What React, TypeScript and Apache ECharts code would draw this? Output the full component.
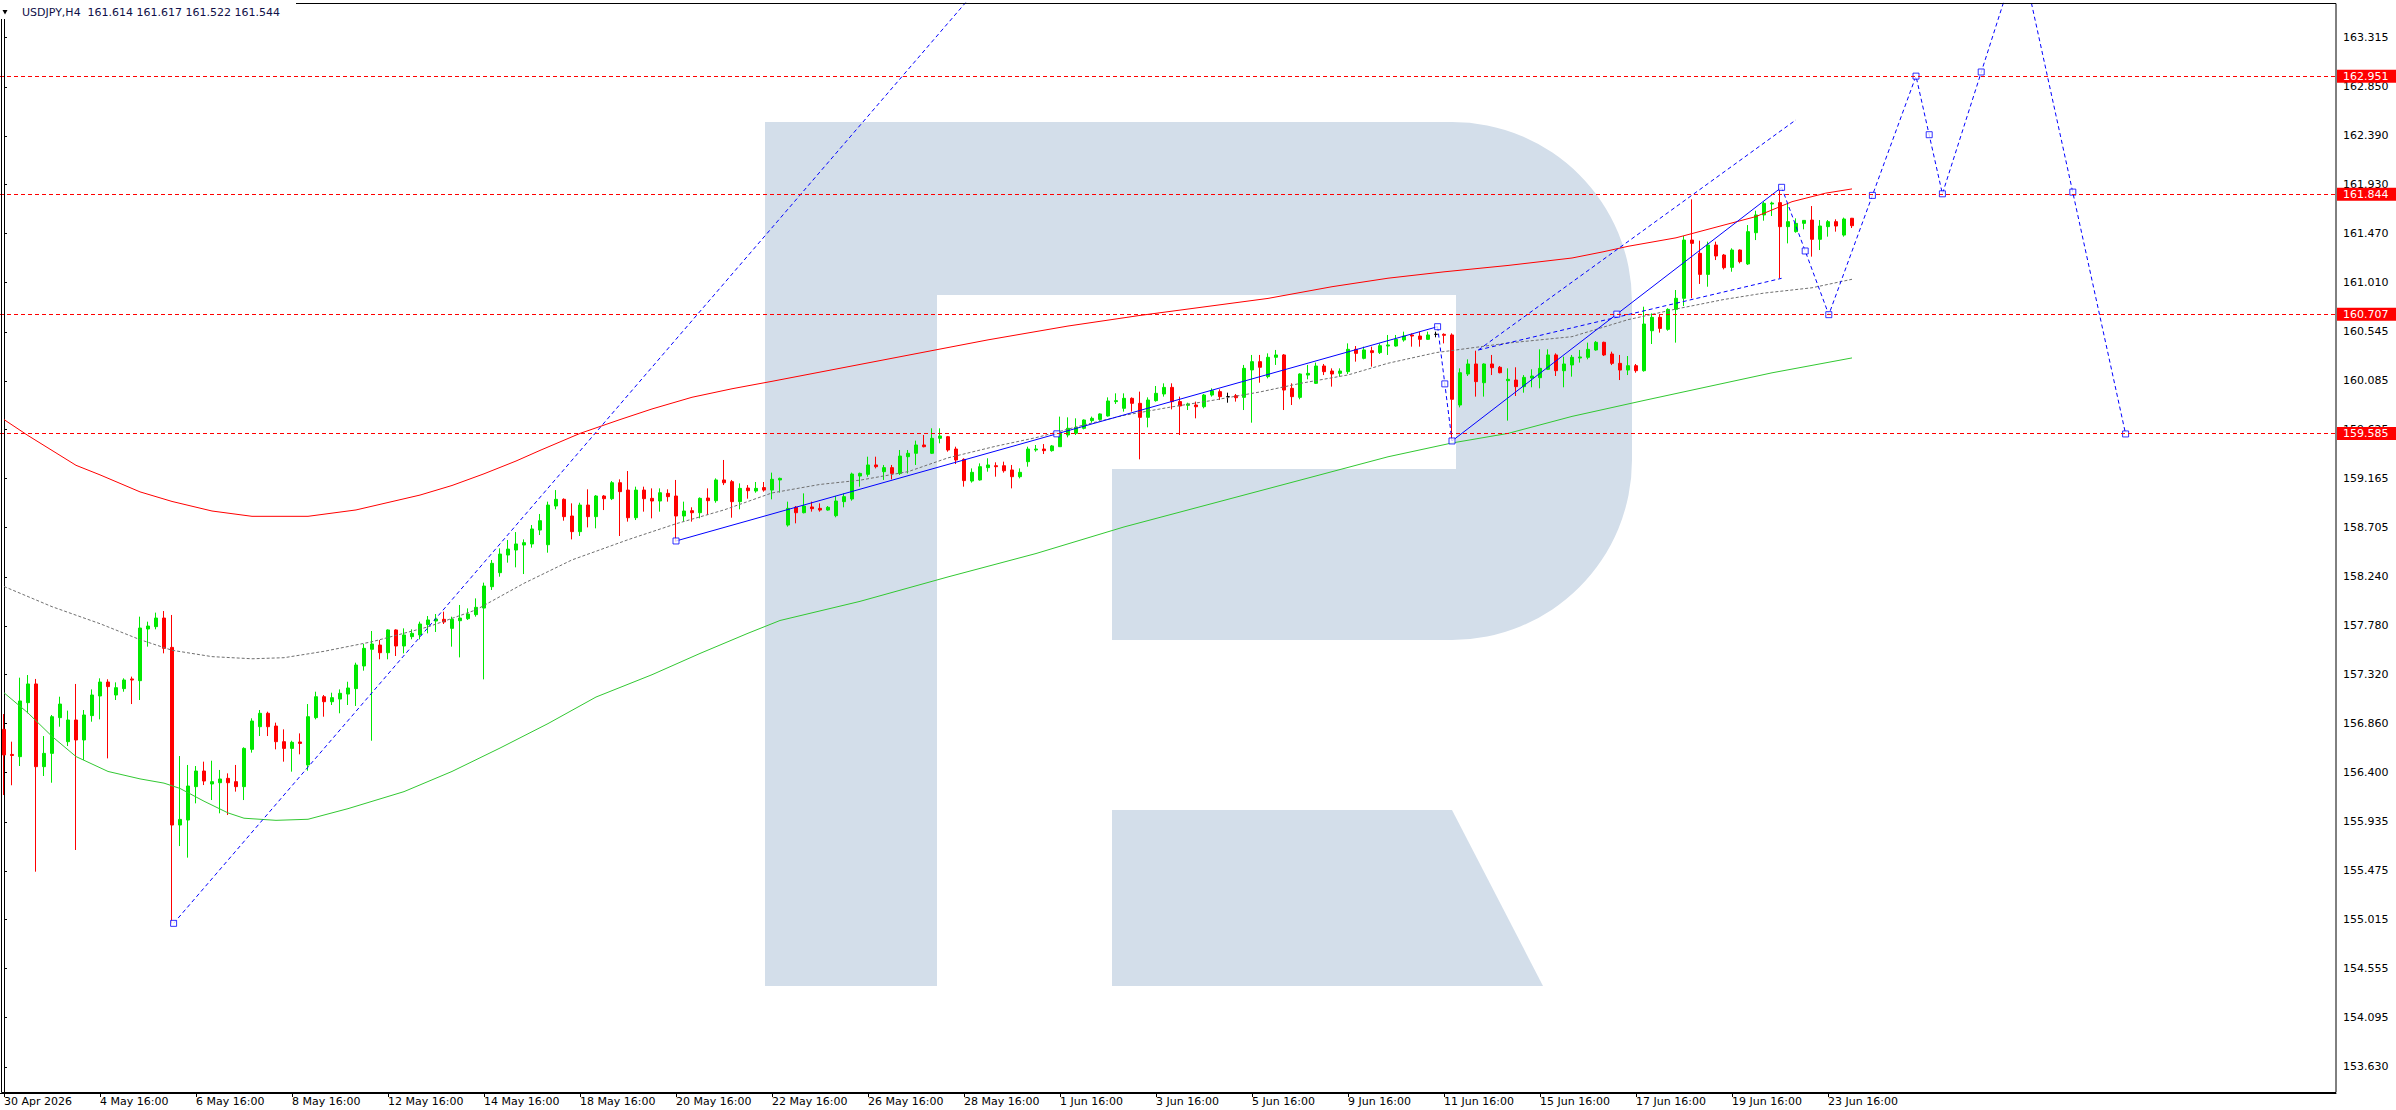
import React, { useEffect, useRef } from 'react';
import * as echarts from 'echarts';

// ---------- data ----------
const HEADER = 'USDJPY,H4  161.614 161.617 161.522 161.544';
const BAR_COUNT = 292;
const categories = Array.from({ length: BAR_COUNT }, (_, i) => String(i));

const X_TICK_LABELS = [
  '30 Apr 2026', '4 May 16:00', '6 May 16:00', '8 May 16:00', '12 May 16:00',
  '14 May 16:00', '18 May 16:00', '20 May 16:00', '22 May 16:00', '26 May 16:00',
  '28 May 16:00', '1 Jun 16:00', '3 Jun 16:00', '5 Jun 16:00', '9 Jun 16:00',
  '11 Jun 16:00', '15 Jun 16:00', '17 Jun 16:00', '19 Jun 16:00', '23 Jun 16:00',
];

const Y_TICK_VALUES = [
  163.315, 162.85, 162.39, 161.93, 161.47, 161.01, 160.545, 160.085, 159.625, 159.165,
  158.705, 158.24, 157.78, 157.32, 156.86, 156.4, 155.935, 155.475, 155.015, 154.555,
  154.095, 153.63,
];

const LEVELS = ['162.951', '161.844', '160.707', '159.585'];
const LAST_PRICE = '161.544';

// [open, high, low, close]
const ohlc: number[][] = [
  [156.806, 156.95, 156.188, 156.565], [156.57, 156.69, 156.28, 156.56], [156.549, 157.292, 156.461, 157.073],
  [157.057, 157.317, 156.957, 157.233], [157.233, 157.28, 155.467, 156.455], [156.455, 156.743, 156.367, 156.58],
  [156.58, 156.941, 156.304, 156.925], [156.916, 157.113, 156.831, 157.044], [156.69, 156.982, 156.649, 156.894],
  [156.894, 157.233, 155.671, 156.706], [156.706, 156.988, 156.518, 156.941], [156.935, 157.182, 156.878, 157.129],
  [157.12, 157.286, 156.9, 157.251], [157.251, 157.277, 156.533, 157.208], [157.129, 157.248, 157.082, 157.198],
  [157.189, 157.286, 157.16, 157.27], [157.28, 157.302, 157.044, 157.27], [157.264, 157.866, 157.082, 157.759],
  [157.75, 157.819, 157.584, 157.778], [157.772, 157.904, 157.747, 157.853], [157.853, 157.919, 157.521, 157.568],
  [157.577, 157.882, 154.981, 155.906], [155.906, 156.555, 155.708, 155.959], [155.953, 156.471, 155.599, 156.273],
  [156.267, 156.461, 156.11, 156.414], [156.414, 156.502, 156.282, 156.32], [156.292, 156.511, 156.141, 156.314],
  [156.304, 156.424, 156.016, 156.339], [156.345, 156.392, 156.0, 156.304], [156.314, 156.471, 156.22, 156.267],
  [156.267, 156.637, 156.141, 156.627], [156.618, 156.91, 156.587, 156.884], [156.831, 156.988, 156.743, 156.957],
  [156.957, 156.972, 156.743, 156.831], [156.837, 156.869, 156.618, 156.69], [156.69, 156.806, 156.502, 156.627],
  [156.627, 156.699, 156.408, 156.684], [156.687, 156.768, 156.571, 156.674], [156.471, 157.044, 156.417, 156.925],
  [156.916, 157.16, 156.9, 157.113], [157.113, 157.129, 156.925, 157.066], [157.066, 157.151, 157.035, 157.104],
  [157.091, 157.182, 156.957, 157.145], [157.138, 157.254, 157.035, 157.195], [157.189, 157.433, 157.026, 157.411],
  [157.402, 157.609, 157.358, 157.568], [157.559, 157.731, 156.699, 157.609], [157.599, 157.646, 157.465, 157.527],
  [157.527, 157.747, 157.465, 157.741], [157.741, 157.747, 157.496, 157.59], [157.59, 157.756, 157.521, 157.694],
  [157.678, 157.747, 157.653, 157.709], [157.694, 157.819, 157.653, 157.797], [157.791, 157.872, 157.709, 157.835],
  [157.825, 157.891, 157.722, 157.844], [157.841, 157.913, 157.797, 157.816], [157.756, 157.866, 157.584, 157.841],
  [157.828, 157.976, 157.483, 157.853], [157.847, 157.944, 157.835, 157.891], [157.885, 158.038, 157.866, 157.954],
  [157.947, 158.186, 157.276, 158.154], [158.148, 158.399, 158.117, 158.368], [158.28, 158.509, 158.242, 158.455],
  [158.446, 158.587, 158.374, 158.502], [158.493, 158.662, 158.33, 158.55], [158.54, 158.593, 158.267, 158.562],
  [158.55, 158.728, 158.515, 158.691], [158.681, 158.832, 158.634, 158.769], [158.543, 158.948, 158.468, 158.916],
  [158.907, 159.057, 158.876, 158.97], [158.97, 158.979, 158.769, 158.807], [158.813, 158.932, 158.593, 158.666],
  [158.666, 158.938, 158.625, 158.916], [158.916, 159.064, 158.706, 158.807], [158.807, 159.01, 158.697, 159.001],
  [159.001, 159.01, 158.869, 158.976], [158.976, 159.142, 158.963, 159.126], [159.126, 159.158, 158.625, 159.042],
  [159.057, 159.236, 158.76, 158.797], [158.797, 159.089, 158.775, 159.057], [159.057, 159.089, 158.854, 158.976],
  [158.979, 159.073, 158.791, 158.954], [158.954, 159.073, 158.854, 159.032], [159.026, 159.064, 158.948, 158.995],
  [159.001, 159.152, 158.572, 158.813], [158.813, 158.948, 158.76, 158.86], [158.863, 158.895, 158.76, 158.844],
  [158.844, 158.988, 158.791, 158.979], [158.982, 159.073, 158.822, 158.957], [158.957, 159.167, 158.938, 159.152],
  [159.152, 159.34, 159.104, 159.126], [159.136, 159.152, 158.797, 158.948], [158.948, 159.12, 158.876, 159.073],
  [159.076, 159.104, 158.976, 159.051], [159.048, 159.133, 159.032, 159.073], [159.08, 159.133, 159.042, 159.057],
  [159.057, 159.221, 158.97, 159.158], [159.152, 159.174, 159.033, 159.167], [158.728, 158.948, 158.713, 158.885],
  [158.895, 158.907, 158.744, 158.844], [158.844, 159.026, 158.838, 158.907], [158.898, 158.948, 158.854, 158.882],
  [158.885, 158.932, 158.854, 158.869], [158.869, 158.907, 158.863, 158.895], [158.816, 159.001, 158.801, 158.954],
  [158.948, 159.026, 158.895, 158.995], [158.973, 159.221, 158.957, 159.208], [159.189, 159.221, 159.089, 159.214],
  [159.205, 159.371, 159.183, 159.293], [159.293, 159.371, 159.261, 159.277], [159.23, 159.293, 159.152, 159.268],
  [159.268, 159.293, 159.158, 159.214], [159.214, 159.434, 159.199, 159.377], [159.371, 159.434, 159.214, 159.403],
  [159.403, 159.522, 159.293, 159.481], [159.481, 159.575, 159.459, 159.465], [159.403, 159.638, 159.396, 159.544],
  [159.544, 159.638, 159.497, 159.566], [159.559, 159.566, 159.418, 159.434], [159.443, 159.465, 159.302, 159.34],
  [159.346, 159.356, 159.089, 159.146], [159.142, 159.261, 159.127, 159.224], [159.152, 159.308, 159.146, 159.277],
  [159.268, 159.356, 159.23, 159.293], [159.286, 159.318, 159.183, 159.277], [159.286, 159.324, 159.221, 159.239],
  [159.246, 159.293, 159.073, 159.183], [159.183, 159.261, 159.167, 159.224], [159.324, 159.465, 159.277, 159.443],
  [159.434, 159.481, 159.418, 159.443], [159.443, 159.49, 159.396, 159.428], [159.428, 159.481, 159.418, 159.472],
  [159.465, 159.748, 159.465, 159.591], [159.575, 159.741, 159.553, 159.638], [159.591, 159.732, 159.575, 159.647],
  [159.638, 159.722, 159.628, 159.716], [159.71, 159.748, 159.691, 159.732], [159.722, 159.779, 159.71, 159.773],
  [159.754, 159.929, 159.748, 159.895], [159.889, 159.967, 159.867, 159.898], [159.826, 159.967, 159.795, 159.92],
  [159.92, 159.929, 159.795, 159.873], [159.873, 159.983, 159.346, 159.741], [159.741, 159.929, 159.647, 159.904],
  [159.898, 160.036, 159.889, 159.967], [159.961, 160.061, 159.936, 160.023], [160.023, 160.061, 159.816, 159.889],
  [159.889, 159.936, 159.575, 159.848], [159.854, 159.879, 159.81, 159.867], [159.857, 159.889, 159.732, 159.841],
  [159.841, 159.961, 159.826, 159.951], [159.951, 160.014, 159.936, 159.992], [159.983, 160.005, 159.904, 159.936],
  [159.936, 159.973, 159.879, 159.936], [159.945, 159.961, 159.889, 159.926], [159.929, 160.234, 159.81, 160.202],
  [160.187, 160.328, 159.691, 160.265], [160.265, 160.328, 160.067, 160.212], [160.124, 160.343, 160.108, 160.306],
  [160.306, 160.375, 160.234, 160.328], [160.328, 160.337, 159.81, 159.998], [160.014, 160.061, 159.857, 159.936],
  [159.929, 160.155, 159.911, 160.149], [160.139, 160.234, 160.099, 160.155], [160.061, 160.256, 160.055, 160.224],
  [160.224, 160.243, 160.139, 160.171], [160.177, 160.202, 160.03, 160.149], [160.155, 160.202, 160.124, 160.177],
  [160.171, 160.437, 160.149, 160.381], [160.381, 160.412, 160.265, 160.343], [160.296, 160.406, 160.287, 160.375],
  [160.368, 160.406, 160.218, 160.35], [160.35, 160.437, 160.337, 160.415], [160.412, 160.516, 160.328, 160.422],
  [160.412, 160.516, 160.406, 160.475], [160.469, 160.547, 160.453, 160.506], [160.516, 160.531, 160.406, 160.506],
  [160.506, 160.547, 160.406, 160.475], [160.475, 160.547, 160.469, 160.516], [160.522, 160.547, 160.494, 160.522],
  [160.522, 160.531, 160.437, 160.513], [160.516, 160.531, 159.522, 159.911], [159.857, 160.202, 159.835, 160.161],
  [160.149, 160.287, 160.13, 160.243], [160.243, 160.368, 159.936, 160.077], [160.067, 160.249, 159.936, 160.243],
  [160.243, 160.328, 160.139, 160.208], [160.212, 160.224, 160.155, 160.161], [160.086, 160.202, 159.71, 160.099],
  [160.092, 160.212, 159.942, 160.03], [160.03, 160.139, 159.973, 160.117], [160.111, 160.193, 160.024, 160.13],
  [160.114, 160.381, 160.014, 160.202], [160.193, 160.381, 160.186, 160.328], [160.328, 160.343, 160.13, 160.18],
  [160.18, 160.312, 160.024, 160.243], [160.234, 160.328, 160.124, 160.306], [160.299, 160.375, 160.256, 160.309],
  [160.306, 160.444, 160.287, 160.381], [160.375, 160.459, 160.368, 160.447], [160.447, 160.453, 160.318, 160.328],
  [160.337, 160.359, 160.233, 160.249], [160.249, 160.328, 160.092, 160.186], [160.186, 160.318, 160.139, 160.227],
  [160.227, 160.243, 160.161, 160.18], [160.18, 160.782, 160.171, 160.619], [160.556, 160.719, 160.431, 160.682],
  [160.682, 160.713, 160.538, 160.578], [160.569, 160.767, 160.556, 160.757], [160.757, 160.939, 160.444, 160.861],
  [160.861, 161.447, 160.788, 161.409], [161.409, 161.792, 160.861, 161.378], [161.284, 161.403, 160.996, 161.086],
  [161.086, 161.394, 160.97, 161.362], [161.362, 161.394, 161.221, 161.259], [161.268, 161.278, 161.133, 161.149],
  [161.152, 161.331, 161.111, 161.315], [161.315, 161.321, 161.19, 161.206], [161.184, 161.55, 161.174, 161.488],
  [161.478, 161.685, 161.409, 161.645], [161.645, 161.77, 161.591, 161.754], [161.748, 161.77, 161.635, 161.757],
  [161.761, 161.886, 161.049, 161.535], [161.535, 161.754, 161.378, 161.582], [161.488, 161.613, 161.478, 161.566],
  [161.566, 161.597, 161.51, 161.594], [161.597, 161.729, 161.253, 161.416], [161.416, 161.597, 161.315, 161.541],
  [161.535, 161.597, 161.441, 161.582], [161.582, 161.604, 161.488, 161.541], [161.456, 161.62, 161.441, 161.607],
  [161.614, 161.617, 161.522, 161.544],
];

// moving averages, read at sample bars: [bar index, price]
const redMA = [
  [0, 159.72], [3, 159.57], [6, 159.43], [9, 159.29], [12, 159.2], [17, 159.04], [21, 158.95], [26, 158.86],
  [31, 158.81], [38, 158.81], [44, 158.87], [48, 158.94], [52, 159.01], [56, 159.1], [60, 159.21], [64, 159.33],
  [67, 159.43], [72, 159.59], [77, 159.72], [81, 159.82], [86, 159.93], [91, 160.01], [96, 160.08], [105, 160.21],
  [114, 160.34], [123, 160.47], [133, 160.6], [142, 160.7], [151, 160.79], [158, 160.86], [166, 160.97],
  [173, 161.05], [180, 161.11], [188, 161.17], [196, 161.24], [200, 161.3], [203, 161.35], [209, 161.43],
  [215, 161.55], [219, 161.63], [223.5, 161.77], [227.7, 161.85], [231, 161.89],
];
const greenMA = [
  [0, 157.15], [3, 156.96], [6, 156.74], [9, 156.55], [13, 156.41], [17, 156.34], [20, 156.3], [22, 156.25],
  [25, 156.13], [28, 156.02], [30, 155.97], [34, 155.95], [38, 155.96], [43, 156.06], [50, 156.22], [56, 156.41],
  [62, 156.63], [68, 156.86], [74, 157.11], [81, 157.32], [87, 157.52], [93, 157.71], [97, 157.83], [107, 158.01],
  [118, 158.24], [129, 158.46], [140, 158.71], [151, 158.93], [162, 159.15], [173, 159.37], [181, 159.5],
  [188, 159.59], [196, 159.75], [205, 159.9], [213, 160.03], [221, 160.16], [231, 160.3],
];
const grayMA = [
  [0, 158.15], [6, 157.96], [12, 157.8], [17, 157.65], [21, 157.55], [26, 157.49], [31, 157.47], [35, 157.48],
  [40, 157.54], [46, 157.63], [53, 157.77], [59, 157.93], [65, 158.18], [71, 158.4], [78, 158.59], [84, 158.74],
  [90, 158.87], [96, 159.03], [102, 159.11], [107, 159.15], [113, 159.23], [118, 159.36], [124, 159.47],
  [129, 159.55], [135, 159.67], [140, 159.76], [146, 159.84], [151, 159.9], [157, 159.98], [162, 160.06],
  [168, 160.14], [173, 160.25], [179, 160.35], [188, 160.44], [196, 160.5], [203, 160.66], [209, 160.76],
  [215, 160.85], [220, 160.91], [226, 160.96], [231, 161.04],
];

// drawn objects
const trend1 = [[84, 158.578], [179.2, 160.594]];
const trend2 = [[181, 159.519], [222.2, 161.905]];
const dashBig = [[21.2, 154.981], [126, 164.15]];
const dashLink = [[179.2, 160.594], [181, 159.519]];
const dashFanUp = [[184.3, 160.375], [224, 162.54]];
const dashFanLow = [[184.3, 160.375], [222.2, 161.049]];
const forecast = [[222.2, 161.905], [228.1, 160.707], [239, 162.951], [242.3, 161.844], [252, 164.13], [265.2, 159.585]];
const anchors = [
  [84, 158.578], [131.6, 159.586], [179.2, 160.594], [180.1, 160.056],
  [181, 159.519], [201.6, 160.712], [222.2, 161.905], [21.2, 154.981],
  [225.15, 161.306], [228.1, 160.707], [233.55, 161.829], [239, 162.951], [240.65, 162.4],
  [242.3, 161.844], [247.15, 162.99], [258.6, 161.86], [265.2, 159.585],
];

// ---------- styles ----------
const BULL = '#00e800';
const BEAR = '#ff0000';
const BLUE = '#0000ff';
const LOGO = '#d3deea';
const FONT = 'DejaVu Sans';

echarts.graphic.registerShape(
  'rLogo',
  echarts.graphic.extendPath(
    'M765 122 L1452 122 A180 180 0 0 1 1632 302 L1632 460 A180 180 0 0 1 1452 640 L1112 640 L1112 469 L1456 469 L1456 295 L937 295 L937 986 L765 986 Z',
    {}
  )
);

const lineSeries = (data: number[][], color: string, type: any) => ({
  type: 'line',
  xAxisIndex: 1,
  yAxisIndex: 0,
  data,
  symbol: 'none',
  clip: true,
  silent: true,
  smooth: false,
  lineStyle: { color, width: 1, type },
  z: 3,
});

const priceLabel = (bg: string) => ({
  show: true,
  position: 'end',
  distance: 1,
  formatter: (p: any) => p.name,
  color: '#ffffff',
  backgroundColor: bg,
  fontSize: 11,
  fontFamily: FONT,
  padding: [1, 0, 0, 6],
  width: 53,
  height: 12,
  lineHeight: 12,
});

const option: any = {
  animation: false,
  backgroundColor: '#ffffff',
  grid: { left: -2.1, right: 60, top: 3, bottom: 17, containLabel: false },
  xAxis: [
    {
      type: 'category',
      data: categories,
      boundaryGap: true,
      axisLine: { show: true, lineStyle: { color: '#000', width: 1 } },
      axisTick: {
        show: true,
        alignWithLabel: true,
        length: 4,
        interval: (i: number) => i % 12 === 0 && i / 12 < X_TICK_LABELS.length,
        lineStyle: { color: '#000' },
      },
      axisLabel: {
        interval: (i: number) => i % 12 === 0 && i / 12 < X_TICK_LABELS.length,
        formatter: (_v: string, i: number) => X_TICK_LABELS[i / 12] ?? '',
        align: 'left',
        margin: 3,
        color: '#000',
        fontSize: 11,
        fontFamily: FONT,
      },
      splitLine: { show: false },
    },
    { type: 'value', min: -0.5, max: BAR_COUNT - 0.5, show: false, gridIndex: 0 },
  ],
  yAxis: {
    type: 'value',
    position: 'right',
    min: 153.385,
    max: 163.639,
    axisLine: { show: true, lineStyle: { color: '#000', width: 1 } },
    axisTick: { show: true, customValues: Y_TICK_VALUES, length: 3, lineStyle: { color: '#000' } },
    axisLabel: {
      customValues: Y_TICK_VALUES,
      formatter: (v: number) => v.toFixed(3),
      margin: 7,
      color: '#000',
      fontSize: 11,
      fontFamily: FONT,
    },
    splitLine: { show: false },
  },
  series: [
    {
      type: 'candlestick',
      xAxisIndex: 0,
      yAxisIndex: 0,
      data: ohlc.map(([o, h, l, c]) => [o, c, l, h]),
      barWidth: 4,
      silent: true,
      z: 2,
      itemStyle: {
        color: BULL,
        color0: BEAR,
        borderColor: BULL,
        borderColor0: BEAR,
        borderColorDoji: '#000000',
        borderWidth: 1,
      },
      markLine: {
        silent: true,
        symbol: ['none', 'none'],
        animation: false,
        lineStyle: { color: '#ff0000', width: 1, type: [4, 3] },
        label: priceLabel('#ff0000'),
        data: [
          ...LEVELS.map((v) => ({ name: v, yAxis: Number(v) })),
          { name: LAST_PRICE, yAxis: Number(LAST_PRICE), lineStyle: { opacity: 0 }, label: priceLabel('#000000') },
        ],
      },
    },
    lineSeries(redMA, '#ff0000', 'solid'),
    lineSeries(greenMA, '#32c832', 'solid'),
    lineSeries(grayMA, '#707070', [3, 2]),
    lineSeries(trend1, BLUE, 'solid'),
    lineSeries(trend2, BLUE, 'solid'),
    lineSeries(dashBig, BLUE, [4, 3]),
    lineSeries(dashLink, BLUE, [4, 3]),
    lineSeries(dashFanUp, BLUE, [4, 3]),
    lineSeries(dashFanLow, BLUE, [4, 3]),
    lineSeries(forecast, BLUE, [4, 3]),
    {
      type: 'scatter',
      xAxisIndex: 1,
      yAxisIndex: 0,
      data: anchors,
      symbol: 'rect',
      symbolSize: 6,
      silent: true,
      z: 4,
      itemStyle: { color: '#ffffff', borderColor: BLUE, borderWidth: 1 },
    },
  ],
  graphic: [
    { type: 'rLogo', x: 0, y: 0, z: 0, silent: true, style: { fill: LOGO } },
    {
      type: 'polygon',
      z: 0,
      silent: true,
      shape: { points: [[1112, 810], [1452, 810], [1543, 986], [1112, 986]] },
      style: { fill: LOGO },
    },
    {
      type: 'rect',
      z: 10,
      silent: true,
      shape: { x: 1.5, y: 3.5, width: 2334.5, height: 1089 },
      style: { fill: 'none', stroke: '#000', lineWidth: 1 },
    },
    { type: 'rect', z: 11, silent: true, shape: { x: 0, y: 0, width: 296, height: 19 }, style: { fill: '#ffffff' } },
    {
      type: 'polygon',
      z: 12,
      silent: true,
      shape: { points: [[2.5, 10], [7.5, 10], [5, 14.5]] },
      style: { fill: '#000' },
    },
    {
      type: 'text',
      z: 12,
      silent: true,
      x: 22,
      y: 12.5,
      style: { text: HEADER, fill: '#101048', fontSize: 11, fontFamily: FONT, verticalAlign: 'middle' },
    },
  ],
};

export default function App() {
  const ref = useRef<HTMLDivElement>(null);
  useEffect(() => {
    if (!ref.current) return;
    const chart = echarts.init(ref.current, undefined, { renderer: 'svg' });
    chart.setOption(option);
    return () => chart.dispose();
  }, []);
  return (
    <div
      ref={ref}
      style={{ position: 'fixed', left: 0, top: 0, width: 2396, height: 1110, background: '#ffffff' }}
    />
  );
}
